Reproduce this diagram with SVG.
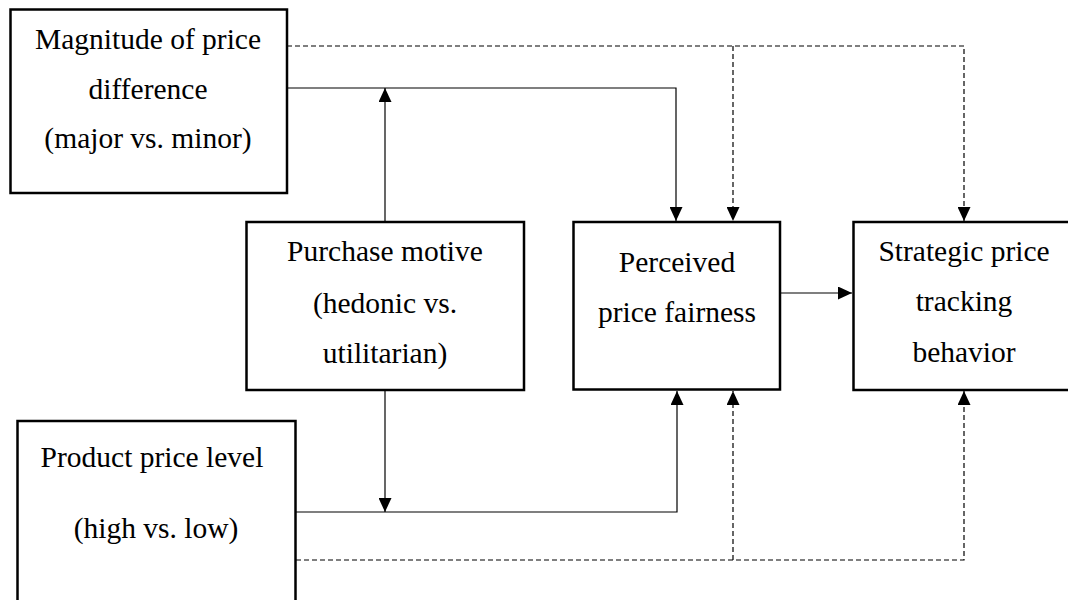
<svg xmlns="http://www.w3.org/2000/svg" width="1068" height="600" viewBox="0 0 1068 600">
<style>
.box{fill:#fff;stroke:#000;stroke-width:2.5}
.t{font-family:"Liberation Serif","Times New Roman",serif;font-size:29.5px;fill:#000;text-anchor:middle}
.c{fill:none;stroke:#000;stroke-width:1.2}
.d{fill:none;stroke:#000;stroke-width:1.2;stroke-dasharray:5,3}
</style>
<defs>
<marker id="ah" viewBox="0 0 14 13" refX="14" refY="6.5" markerWidth="14" markerHeight="13" markerUnits="userSpaceOnUse" orient="auto">
<path d="M0,0 L14,6.5 L0,13 z" fill="#000"/>
</marker>
</defs>
<rect width="1068" height="600" fill="#fff"/>
<g id="connectors">
<path class="c" d="M287,88 H676 V221" marker-end="url(#ah)"/>
<path class="c" d="M385,221 V88" marker-end="url(#ah)"/>
<path class="d" d="M287,46 H964 V221" marker-end="url(#ah)"/>
<path class="d" d="M733,46 V221" marker-end="url(#ah)"/>
<path class="c" d="M780,293 H852" marker-end="url(#ah)"/>
<path class="c" d="M385,391 V512" marker-end="url(#ah)"/>
<path class="c" d="M296,512 H677 V391" marker-end="url(#ah)"/>
<path class="d" d="M296,560 H964 V391" marker-end="url(#ah)"/>
<path class="d" d="M733,560 V391" marker-end="url(#ah)"/>
</g>
<g id="magnitude">
<rect class="box" x="10.5" y="9.5" width="276.5" height="183.5"/>
<text class="t" x="148" y="49">Magnitude of price</text>
<text class="t" x="148" y="99">difference</text>
<text class="t" x="148" y="148">(major vs. minor)</text>
</g>
<g id="motive">
<rect class="box" x="246.5" y="222" width="277.5" height="168"/>
<text class="t" x="385" y="261">Purchase motive</text>
<text class="t" x="385" y="313">(hedonic vs.</text>
<text class="t" x="385" y="363">utilitarian)</text>
</g>
<g id="fairness">
<rect class="box" x="573.5" y="222" width="206.5" height="167.5"/>
<text class="t" x="677" y="272">Perceived</text>
<text class="t" x="677" y="322">price fairness</text>
</g>
<g id="tracking">
<rect class="box" x="853.5" y="222" width="222" height="168"/>
<text class="t" x="964" y="261">Strategic price</text>
<text class="t" x="964" y="311">tracking</text>
<text class="t" x="964" y="362">behavior</text>
</g>
<g id="pricelevel">
<rect class="box" x="17.5" y="421" width="278" height="190"/>
<text class="t" x="152" y="467">Product price level</text>
<text class="t" x="156" y="538">(high vs. low)</text>
</g>
</svg>
